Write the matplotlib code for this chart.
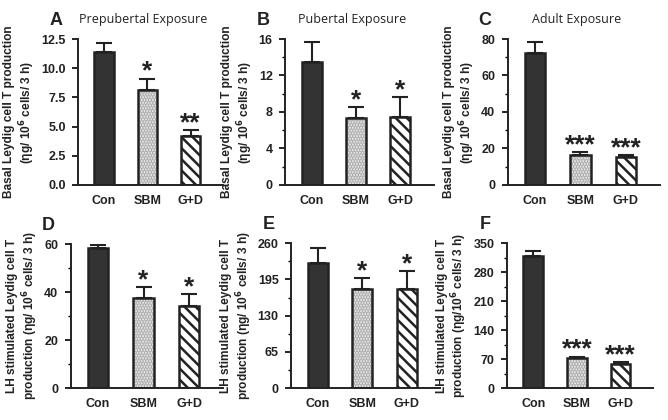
import matplotlib
matplotlib.use("Agg")
import matplotlib.pyplot as plt
from matplotlib.ticker import MultipleLocator

plt.rcParams["font.family"] = ["Liberation Sans", "DejaVu Sans"]
plt.rcParams["hatch.linewidth"] = 1.8

groups = ["Con", "SBM", "G+D"]

# basal T production (top row)
basal_pre = [11.4, 8.1, 4.2]
basal_pre_err = [0.8, 1.0, 0.5]
basal_pub = [13.5, 7.3, 7.4]
basal_pub_err = [2.2, 1.2, 2.2]
basal_adult = [72.5, 16.5, 15.0]
basal_adult_err = [6.0, 1.5, 1.5]

# LH stimulated T production (bottom row)
lh_pre = [58.5, 37.5, 34.0]
lh_pre_err = [1.0, 4.5, 5.0]
lh_pub = [225, 178, 178]
lh_pub_err = [26, 19, 32]
lh_adult = [318, 72, 58]
lh_adult_err = [12, 4, 5]

stars = {
    "A": ["", "*", "**"], "B": ["", "*", "*"], "C": ["", "***", "***"],
    "D": ["", "*", "*"], "E": ["", "*", "*"], "F": ["", "***", "***"],
}

basal_lbl = "Basal Leydig cell T production\n(ηg/ 10$^{\\mathbf{6}}$ cells/ 3 h)"
lh_lbl = "LH stimulated Leydig cell T\nproduction (ηg/ 10$^{\\mathbf{6}}$ cells/ 3 h)"
lh_lbl_f = "LH stimulated Leydig cell T\nproduction (ηg/10$^{\\mathbf{6}}$ cells/ 3 h)"

panels = [
    # letter, rect, values, errs, ymax, major, minor, fmt, ylabel, title
    ("A", [0.117, 0.560, 0.217, 0.347], basal_pre, basal_pre_err, 12.5, 2.5, None, "%.1f", basal_lbl, "Prepubertal Exposure"),
    ("B", [0.427, 0.560, 0.222, 0.347], basal_pub, basal_pub_err, 16, 4, 2, "%d", basal_lbl, "Pubertal Exposure"),
    ("C", [0.760, 0.560, 0.228, 0.347], basal_adult, basal_adult_err, 80, 20, 10, "%d", basal_lbl, "Adult Exposure"),
    ("D", [0.106, 0.076, 0.228, 0.343], lh_pre, lh_pre_err, 60, 20, 10, "%d", lh_lbl, None),
    ("E", [0.436, 0.076, 0.223, 0.345], lh_pub, lh_pub_err, 260, 65, 32.5, "%d", lh_lbl, None),
    ("F", [0.759, 0.076, 0.219, 0.345], lh_adult, lh_adult_err, 350, 70, 35, "%d", lh_lbl_f, None),
]

ink = "#222222"
fig = plt.figure(figsize=(6.68, 4.2), dpi=100)

for letter, rect, vals, errs, ymax, major, minor, fmt, ylabel, title in panels:
    ax = fig.add_axes(rect)
    x = list(range(len(groups)))
    # fills first: solid, fine light dots, diagonal stripes
    ax.bar(x[0], vals[0], width=0.45, color="#333333", linewidth=0, zorder=2)
    ax.bar(x[1], vals[1], width=0.45, color="#f4f4f4", edgecolor="#a8a8a8",
           hatch="......", linewidth=0, zorder=2)
    ax.bar(x[2], vals[2], width=0.45, color="white", edgecolor=ink,
           hatch="\\\\\\", linewidth=0, zorder=2)
    # outlines on top
    ax.bar(x, vals, width=0.45, fill=False, edgecolor=ink, linewidth=1.8, zorder=3)
    ax.errorbar(x, vals, yerr=[[0, 0, 0], errs], fmt="none", ecolor=ink,
                elinewidth=1.5, capsize=5.5, capthick=1.5, zorder=4)
    for xi, v, e, s in zip(x, vals, errs, stars[letter]):
        if s:
            ax.text(xi, v + e - ymax * 0.035, s, ha="center", va="bottom",
                    fontsize=19, fontweight="bold", color=ink)
    ax.set_xlim(-0.6, 2.75)
    ax.set_ylim(0, ymax)
    ax.yaxis.set_major_locator(MultipleLocator(major))
    if minor:
        ax.yaxis.set_minor_locator(MultipleLocator(minor))
    ax.yaxis.set_major_formatter(plt.FormatStrFormatter(fmt))
    ax.set_xticks(x)
    ax.set_xticklabels(groups)
    for side in ["top", "right"]:
        ax.spines[side].set_visible(False)
    for side in ["left", "bottom"]:
        ax.spines[side].set_linewidth(1.4)
        ax.spines[side].set_color(ink)
    ax.tick_params(axis="y", which="major", length=4, width=1.2, direction="out", pad=5)
    ax.tick_params(axis="y", which="minor", length=2, width=1.0, direction="out")
    ax.tick_params(axis="x", length=0, pad=7)
    for lab in ax.get_xticklabels() + ax.get_yticklabels():
        lab.set_fontsize(9)
        lab.set_fontweight("bold")
        lab.set_color(ink)
    ax.set_ylabel(ylabel, fontsize=8.6, fontweight="bold", color=ink, labelpad=3,
                  linespacing=1.15)
    ax.text(-0.15, 1.07, letter, transform=ax.transAxes, fontsize=13,
            fontweight="bold", color=ink, ha="center", va="bottom")
    if title:
        ax.text(0.45, 1.09, title, transform=ax.transAxes, fontsize=9,
                family="Open Sans", color=ink, ha="center", va="bottom")

fig.savefig("out.png", dpi=100)
